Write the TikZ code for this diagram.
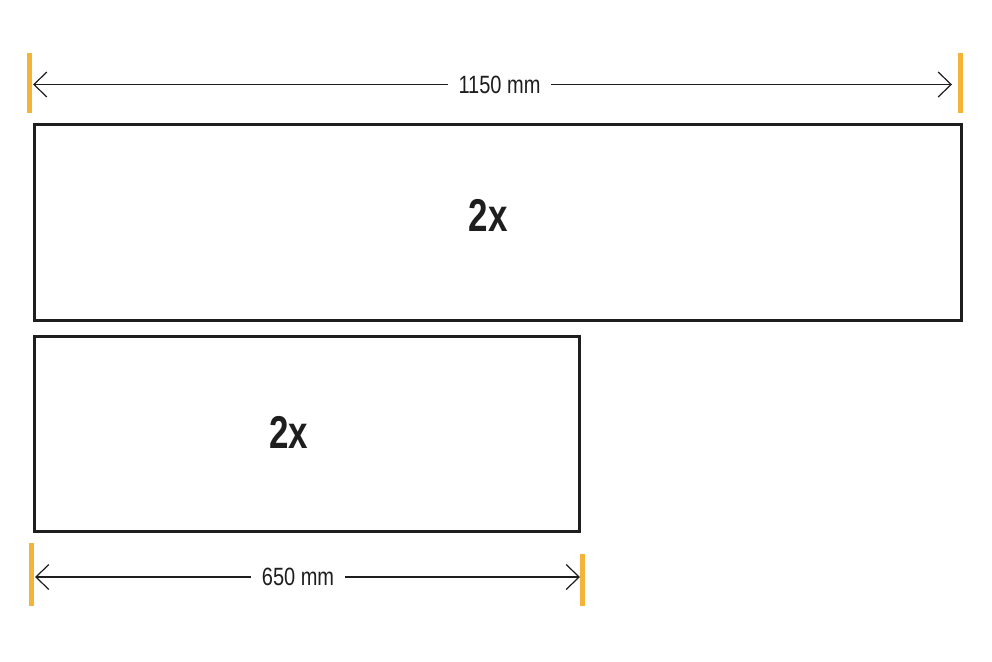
\documentclass[tikz,border=0pt]{standalone}
\usepackage{fontspec}
\setmainfont{Liberation Sans}
\newfontfamily\dimfont[FakeStretch=0.8]{Liberation Sans}
\newfontfamily\boldcond[FakeStretch=0.76]{Liberation Sans Bold}
\usetikzlibrary{arrows.meta}
\definecolor{barorange}{HTML}{F4B43A}
\definecolor{ink}{HTML}{1E1E1E}
\tikzset{
  panel/.style={draw=ink, line width=2.6pt, anchor=north west, inner sep=0pt},
  bar/.style={fill=barorange, draw=none, inner sep=0pt, minimum width=5pt},
  dimline/.style={draw=ink, line width=1.2pt, {Straight Barb[length=13pt,width=25pt]}-{Straight Barb[length=13pt,width=25pt]}},
  dimlabel/.style={fill=white, font=\dimfont\fontsize{25}{28}\selectfont, text=ink, inner xsep=11pt, inner ysep=2pt},
  count/.style={font=\boldcond\fontsize{46}{50}\selectfont, text=ink}
}
\begin{document}
\begin{tikzpicture}[x=1pt,y=-1pt]
\useasboundingbox (0,0) rectangle (992,661);
% panels
\node[panel, minimum width=927pt, minimum height=196pt] (big) at (33,123) {};
\node[panel, minimum width=545pt, minimum height=195pt] (small) at (33,335) {};
\node[count] (bigtxt) at (488,215) {2x};
\node[count] (smalltxt) at (289,432) {2x};
% orange bars
\node[bar, minimum height=60pt] (tl) at (29.5,83) {};
\node[bar, minimum height=60pt] (tr) at (960.5,83) {};
\node[bar, minimum height=63pt] (bl) at (31.5,574.5) {};
\node[bar, minimum height=52pt] (br) at (582.5,580) {};
% dimension lines
\coordinate (ta) at (33,84.5);
\coordinate (tb) at (952,84.5);
\draw[dimline] (ta) -- (tb);
\node[dimlabel] (tlab) at (499.5,85) {1150 mm};
\coordinate (ba) at (35,577);
\coordinate (bb) at (580,577);
\draw[dimline] (ba) -- (bb);
\node[dimlabel] (blab) at (298,577) {650 mm};
\end{tikzpicture}
\end{document}
